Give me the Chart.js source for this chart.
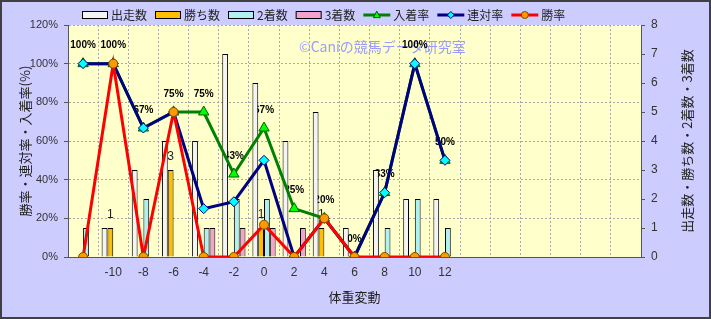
<!DOCTYPE html>
<html><head><meta charset="utf-8">
<script src="https://cdn.jsdelivr.net/npm/chart.js@4"></script>
<style>html,body{margin:0;padding:0;background:#ccccff;}</style>
</head><body>
<canvas id="c" width="711" height="319"></canvas>
<script>
// ---- data ----
const categories = ['', '-10', '-8', '-6', '-4', '-2', '0', '2', '4', '6', '8', '10', '12', '', '', '', '', '', ''];
const starts  = [null, 1, 3, 4, 4, 7, 6, 4, 5, 1, 3, 2, 2];
const wins    = [null, 1, null, 3, null, null, 1, null, 1, null, null, null, null];
const seconds = [1, null, 2, null, 1, 2, 2, null, null, null, 1, 2, 1];
const thirds  = [null, null, null, null, 1, 1, 1, 1, null, null, null, null, null];
const showRate  = [100, 100, 66.7, 75, 75, 42.9, 66.7, 25, 20, 0, 33.3, 100, 50];
const placeRate = [100, 100, 66.7, 75, 25, 28.6, 50, 0, 20, 0, 33.3, 100, 50];
const winRate   = [0, 100, 0, 75, 0, 0, 16.7, 0, 20, 0, 0, 0, 0];
const showRateLabels = ['100%', '100%', '67%', '75%', '75%', '43%', '67%', '25%', '20%', '0%', '33%', '100%', '50%'];
const leftTicks = [0, 20, 40, 60, 80, 100, 120];
const rightTicks = [0, 1, 2, 3, 4, 5, 6, 7, 8];

const FONT = "'Liberation Sans','Noto Sans CJK JP',sans-serif";
const JFONT = "'Noto Sans CJK JP','Liberation Sans',sans-serif";

function drawMarker(ctx, style, x, y, r, fill, stroke) {
  ctx.save();
  ctx.fillStyle = fill; ctx.strokeStyle = stroke; ctx.lineWidth = 1;
  ctx.beginPath();
  if (style === 'triangle') {
    ctx.moveTo(x, y - r * 1.1); ctx.lineTo(x + r, y + r * 0.75); ctx.lineTo(x - r, y + r * 0.75); ctx.closePath();
  } else if (style === 'rectRot') {
    ctx.moveTo(x, y - r); ctx.lineTo(x + r, y); ctx.lineTo(x, y + r); ctx.lineTo(x - r, y); ctx.closePath();
  } else {
    ctx.arc(x, y, r, 0, Math.PI * 2);
  }
  ctx.fill(); ctx.stroke();
  ctx.restore();
}

const bgPlugin = {
  id: 'bg',
  beforeDraw(chart) {
    const {ctx, chartArea: a} = chart;
    ctx.save();
    ctx.fillStyle = '#ccccff';
    ctx.fillRect(0, 0, chart.width, chart.height);
    ctx.fillStyle = '#ffffcc';
    ctx.fillRect(a.left, a.top, a.right - a.left, a.bottom - a.top);
    ctx.restore();
  },
  beforeDatasetsDraw(chart) {
    const {ctx, chartArea: a} = chart;
    ctx.save();
    // watermark
    ctx.font = '14px ' + JFONT;
    ctx.fillStyle = '#9c9cff';
    ctx.textBaseline = 'middle';
    ctx.textAlign = 'left';
    ctx.fillText('©Caniの競馬データ研究室', a.left + 231, a.top + 22);
    // 入着率 labels
    const m = chart.getDatasetMeta(4);
    ctx.font = 'bold 10px ' + FONT;
    ctx.fillStyle = '#000';
    ctx.textAlign = 'center';
    m.data.forEach((p, i) => {
      if (showRate[i] == null) return;
      ctx.fillText(showRateLabels[i], p.x, p.y - 18);
    });
    // 勝ち数 labels
    const mw = chart.getDatasetMeta(1);
    ctx.font = '12px ' + FONT;
    ctx.fillStyle = '#222';
    mw.data.forEach((b, i) => {
      if (wins[i] == null) return;
      ctx.fillText(String(wins[i]), b.x, b.y - 13);
    });
    ctx.restore();
  },
  afterDraw(chart) {
    const {ctx, chartArea: a} = chart;
    ctx.save();
    // right axis title (rotated -90)
    ctx.font = '13px ' + JFONT;
    ctx.fillStyle = '#222';
    ctx.textAlign = 'center';
    ctx.textBaseline = 'middle';
    ctx.translate(687, (a.top + a.bottom) / 2);
    ctx.rotate(-Math.PI / 2);
    ctx.fillText('出走数・勝ち数・2着数・3着数', 0, 0);
    ctx.restore();

    // legend
    ctx.save();
    ctx.font = '12px ' + JFONT;
    ctx.textBaseline = 'middle';
    ctx.textAlign = 'left';
    let x = a.left + 14;
    const y = 15;
    chart.data.datasets.forEach(ds => {
      if (ds.type === 'line') {
        ctx.strokeStyle = ds.borderColor; ctx.lineWidth = 3;
        ctx.beginPath(); ctx.moveTo(x, y); ctx.lineTo(x + 27, y); ctx.stroke();
        drawMarker(ctx, ds.pointStyle, x + 13.5, y, 3.5, ds.pointBackgroundColor, ds.pointBorderColor);
        ctx.fillStyle = '#222';
        ctx.fillText(ds.label, x + 30, y);
        x += 30 + ctx.measureText(ds.label).width + 8;
      } else {
        ctx.fillStyle = ds.backgroundColor;
        ctx.fillRect(x, y - 3.5, 26, 7);
        ctx.strokeStyle = '#000'; ctx.lineWidth = 1;
        ctx.strokeRect(x + 0.5, y - 3.5, 25, 7);
        ctx.fillStyle = '#222';
        ctx.fillText(ds.label, x + 29, y);
        x += 29 + ctx.measureText(ds.label).width + 8;
      }
    });
    ctx.restore();

    // outer border
    ctx.save();
    ctx.strokeStyle = '#404040';
    ctx.lineWidth = 2;
    ctx.strokeRect(1, 1, chart.width - 2, chart.height - 2);
    ctx.restore();
  }
};

const barCommon = {type: 'bar', yAxisID: 'y2', borderColor: '#000', borderWidth: 1,
  categoryPercentage: 0.77, barPercentage: 1.0, order: 5};
const lineCommon = {type: 'line', yAxisID: 'y', borderWidth: 3, tension: 0, pointBorderWidth: 1, spanGaps: false};

new Chart(document.getElementById('c'), {
  type: 'bar',
  data: {
    labels: categories,
    datasets: [
      Object.assign({}, barCommon, {label: '出走数', data: starts, backgroundColor: '#f4f4f4'}),
      Object.assign({}, barCommon, {label: '勝ち数', data: wins, backgroundColor: '#ffbf00'}),
      Object.assign({}, barCommon, {label: '2着数', data: seconds, backgroundColor: '#b0f0f0'}),
      Object.assign({}, barCommon, {label: '3着数', data: thirds, backgroundColor: '#f4a4cc'}),
      Object.assign({}, lineCommon, {label: '入着率', data: showRate, borderColor: '#008000',
        pointStyle: 'triangle', pointRadius: 6, pointBackgroundColor: '#00ff00', pointBorderColor: '#006000', order: 3}),
      Object.assign({}, lineCommon, {label: '連対率', data: placeRate, borderColor: '#000080',
        pointStyle: 'rectRot', pointRadius: 5, pointBackgroundColor: '#00ffff', pointBorderColor: '#000080', order: 2}),
      Object.assign({}, lineCommon, {label: '勝率', data: winRate, borderColor: '#ff0000',
        pointStyle: 'circle', pointRadius: 4.5, pointBackgroundColor: '#ff9900', pointBorderColor: '#7a4a00', order: 1})
    ]
  },
  options: {
    responsive: false,
    devicePixelRatio: 1,
    animation: false,
    layout: {padding: {top: 25, left: 0, right: 0, bottom: 0}},
    plugins: {legend: {display: false}, tooltip: {enabled: false}},
    scales: {
      x: {
        offset: true,
        grid: {offset: true, color: '#a8a8a8', drawTicks: false},
        border: {display: true, color: '#555', dash: [2, 2]},
        ticks: {autoSkip: false, maxRotation: 0, padding: 8, color: '#333', font: {family: FONT, size: 12}},
        title: {display: true, text: '体重変動', color: '#222', font: {family: JFONT, size: 13}, padding: {top: 0, bottom: 14}},
        afterFit: s => { s.height = 62; }
      },
      y: {
        position: 'left', min: 0, max: 120,
        afterBuildTicks: s => { s.ticks = leftTicks.map(v => ({value: v})); },
        ticks: {callback: v => v + '%', color: '#333', padding: 6, font: {family: FONT, size: 11}},
        grid: {color: '#a8a8a8', tickLength: 4, tickColor: '#555', tickBorderDash: []},
        border: {display: true, color: '#555', dash: [2, 2]},
        title: {display: true, text: '勝率・連対率・入着率(%)', color: '#222', font: {family: JFONT, size: 13}, padding: {top: 17, bottom: 0}},
        afterFit: s => { s.width = 68; }
      },
      y2: {
        position: 'right', min: 0, max: 8,
        afterBuildTicks: s => { s.ticks = rightTicks.map(v => ({value: v})); },
        ticks: {color: '#333', padding: 6, font: {family: FONT, size: 12}},
        grid: {drawOnChartArea: false, tickLength: 4, color: '#555'},
        border: {display: true, color: '#555'},
        afterFit: s => { s.width = 70; }
      }
    }
  },
  plugins: [bgPlugin]
});
</script>
</body></html>
